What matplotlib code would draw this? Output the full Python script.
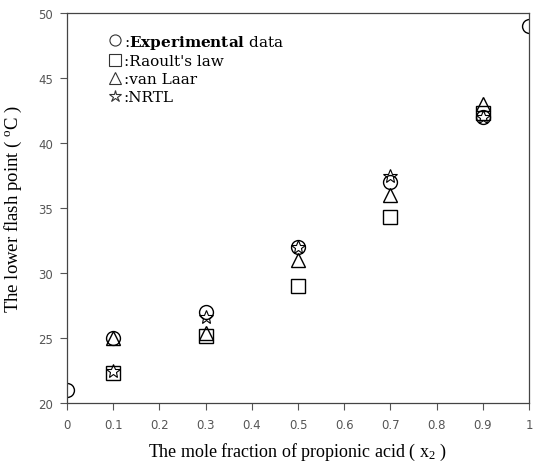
import matplotlib.pyplot as plt
from matplotlib.lines import Line2D

plt.rcParams['mathtext.fontset'] = 'custom'
plt.rcParams['mathtext.rm'] = 'Liberation Serif'
plt.rcParams['mathtext.it'] = 'Liberation Serif'
plt.rcParams['mathtext.bf'] = 'DejaVu Serif:bold'

x_exp = [0, 0.1, 0.3, 0.5, 0.7, 0.9, 1.0]
y_exp = [21, 25, 27, 32, 37, 42, 49]
x_calc = [0.1, 0.3, 0.5, 0.7, 0.9]
y_raoult = [22.3, 25.2, 29.0, 34.3, 42.3]
y_vanlaar = [25.0, 25.4, 31.0, 36.0, 43.0]
y_nrtl = [22.5, 26.6, 32.0, 37.5, 42.0]

fig = plt.figure(figsize=(5.36, 4.64), dpi=100)
ax = fig.add_axes([0.125, 0.129, 0.862, 0.841])

mk = dict(linestyle='none', mfc='none', mec='black', mew=1.0)
ax.plot(x_exp, y_exp, marker='o', ms=10, **mk)
ax.plot(x_calc, y_raoult, marker='s', ms=10, **mk)
ax.plot(x_calc, y_vanlaar, marker='^', ms=10, **mk)
ax.plot(x_calc, y_nrtl, marker='*', ms=10, mew=0.8, linestyle='none', mfc='none', mec='black')

ax.set_xlim(0, 1)
ax.set_ylim(20, 50)
ax.set_xticks([0, 0.1, 0.2, 0.3, 0.4, 0.5, 0.6, 0.7, 0.8, 0.9, 1])
ax.set_xticklabels(['0', '0.1', '0.2', '0.3', '0.4', '0.5', '0.6', '0.7', '0.8', '0.9', '1'])
ax.set_yticks([20, 25, 30, 35, 40, 45, 50])
ax.tick_params(direction='out', length=5, width=0.8, color='#555555',
               labelsize=8.5, labelcolor='#555555', pad=5)
ax.tick_params(axis='x', pad=6)
for s in ax.spines.values():
    s.set_color('#444444')
    s.set_linewidth(0.9)

ax.set_xlabel('The mole fraction of propionic acid ( x$_2$ )',
              family='Liberation Serif', fontsize=13, labelpad=7)
ax.set_ylabel('The lower flash point ( $^{o}$C )',
              family='Liberation Serif', fontsize=13.5, labelpad=10)

lm = dict(linestyle='none', mfc='none', mec='#333333', mew=0.8)
handles = [Line2D([], [], marker='o', ms=8, **lm),
           Line2D([], [], marker='s', ms=8, **lm),
           Line2D([], [], marker='^', ms=8, **lm),
           Line2D([], [], marker='*', ms=9, **lm)]
labels = [':$\\bf{Experimental}$ data', ":Raoult's law", ':van Laar', ':NRTL']
ax.legend(handles, labels, loc='upper left', bbox_to_anchor=(0.06, 0.985),
          frameon=False, handlelength=0.8, handletextpad=0.2, labelspacing=0.25,
          prop={'family': 'DejaVu Serif', 'size': 11})

fig.savefig('out.png', dpi=100)
